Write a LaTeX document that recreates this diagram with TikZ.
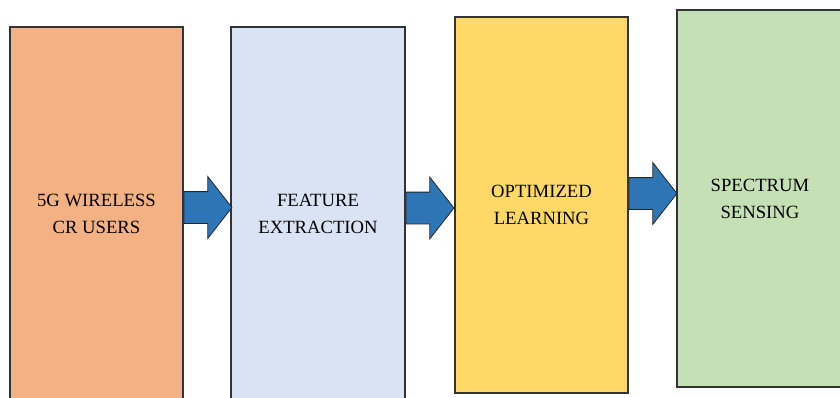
\documentclass[tikz,border=0pt]{standalone}
\usepackage{fontspec}
\setmainfont{Liberation Serif}
\usetikzlibrary{shapes.arrows,calc}

\definecolor{boxorange}{HTML}{F4B183}
\definecolor{boxblue}{HTML}{DAE3F3}
\definecolor{boxyellow}{HTML}{FFD966}
\definecolor{boxgreen}{HTML}{C5E0B4}
\definecolor{arrowblue}{HTML}{2E75B6}

\tikzset{
  stage/.style={draw=black!80, line width=0.8pt, rectangle, align=center, inner sep=0pt,
    font=\fontsize{14}{20.25}\selectfont},
  blockarrow/.style={single arrow, draw=black!85, fill=arrowblue, line width=0.6pt,
    minimum height=48*0.75pt, inner sep=0pt, inner ysep=15.5*0.75pt,
    single arrow head extend=15*0.75pt, single arrow tip angle=104, shape border uses incircle=false}
}

\begin{document}
\begin{tikzpicture}[x=0.75pt,y=-0.75pt]
  \useasboundingbox (0,0) rectangle (840,397);
  \node[stage, fill=boxorange, minimum width=173*0.75pt, minimum height=374*0.75pt] (users) at (96.5,214) {5G WIRELESS\\CR USERS};
  \node[stage, fill=boxblue, minimum width=174*0.75pt, minimum height=374*0.75pt] (feature) at (318,214) {FEATURE\\EXTRACTION};
  \node[stage, fill=boxyellow, minimum width=173*0.75pt, minimum height=376*0.75pt] (learning) at (541.5,205) {OPTIMIZED\\LEARNING};
  \node[stage, fill=boxgreen, minimum width=166*0.75pt, minimum height=377*0.75pt] (sensing) at (760,198.5) {SPECTRUM\\SENSING};
  % arrows between the stages
  \foreach \a/\b/\y in {users/feature/207.5, feature/learning/208, learning/sensing/193.5}
    \node[blockarrow, anchor=tail] (\a-\b) at (\a.east |- 0,\y) {};
\end{tikzpicture}
\end{document}
